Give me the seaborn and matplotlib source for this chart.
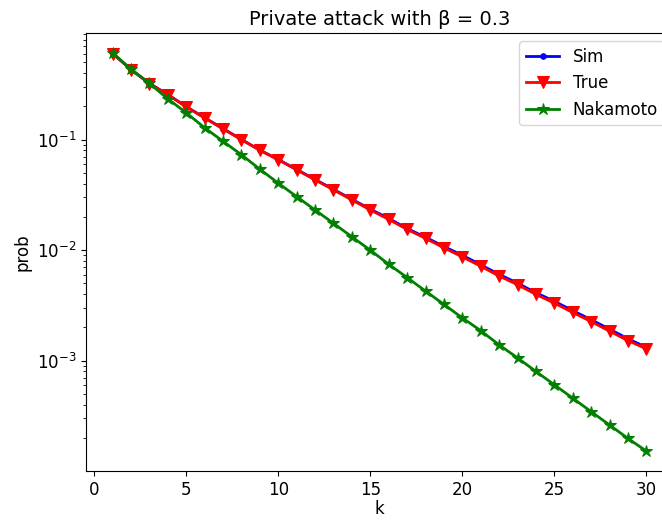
import numpy as np
import pandas as pd
import matplotlib
matplotlib.use("Agg")
import matplotlib.pyplot as plt
import seaborn as sns

k = list(range(1, 31))

prob_true = [0.600, 0.430, 0.322, 0.255, 0.198, 0.157, 0.125, 0.100, 0.0800, 0.0658,
             0.0533, 0.0433, 0.0351, 0.0285, 0.0231, 0.0190, 0.0154, 0.0128, 0.0105, 0.0087,
             0.00716, 0.00584, 0.00487, 0.00398, 0.00332, 0.00273, 0.00226, 0.00185, 0.00152, 0.00128]

prob_sim = [0.602, 0.432, 0.323, 0.256, 0.199, 0.158, 0.126, 0.1005, 0.0805, 0.0662,
            0.0537, 0.0437, 0.0355, 0.0289, 0.0235, 0.0194, 0.0157, 0.0131, 0.0108, 0.0090,
            0.00738, 0.00604, 0.00503, 0.00412, 0.00345, 0.00284, 0.00235, 0.00193, 0.00158, 0.00132]

prob_nakamoto = [0.610, 0.433, 0.323, 0.234, 0.175, 0.128, 0.0966, 0.073, 0.054, 0.0404,
                 0.0305, 0.0231, 0.0175, 0.0132, 0.0100, 0.00746, 0.00565, 0.00427, 0.00323, 0.00244,
                 0.00187, 0.00139, 0.00106, 0.00080, 0.000605, 0.000458, 0.000346, 0.000262, 0.000198, 0.000152]

plt.rcParams["font.size"] = 12

fig = plt.figure(figsize=(6.62, 5.2), dpi=100)
ax = fig.add_axes([86 / 662, 49 / 520, 587 / 662, 438 / 520])

sns.lineplot(x=k, y=prob_sim, ax=ax, color="blue", marker=".", markersize=8,
             markeredgecolor="blue", linewidth=2, label="Sim")
sns.lineplot(x=k, y=prob_true, ax=ax, color="red", marker="v", markersize=9,
             markeredgecolor="red", linewidth=2, label="True")
sns.lineplot(x=k, y=prob_nakamoto, ax=ax, color="green", marker="*", markersize=9,
             markeredgecolor="green", linewidth=2, label="Nakamoto")

ax.set_yscale("log")
ax.set_xlabel("k", labelpad=1)
ax.set_ylabel("prob")
ax.set_title("Private attack with β = 0.3", fontsize=14)
ax.legend(loc="upper right")

fig.savefig("out.png", dpi=100)
